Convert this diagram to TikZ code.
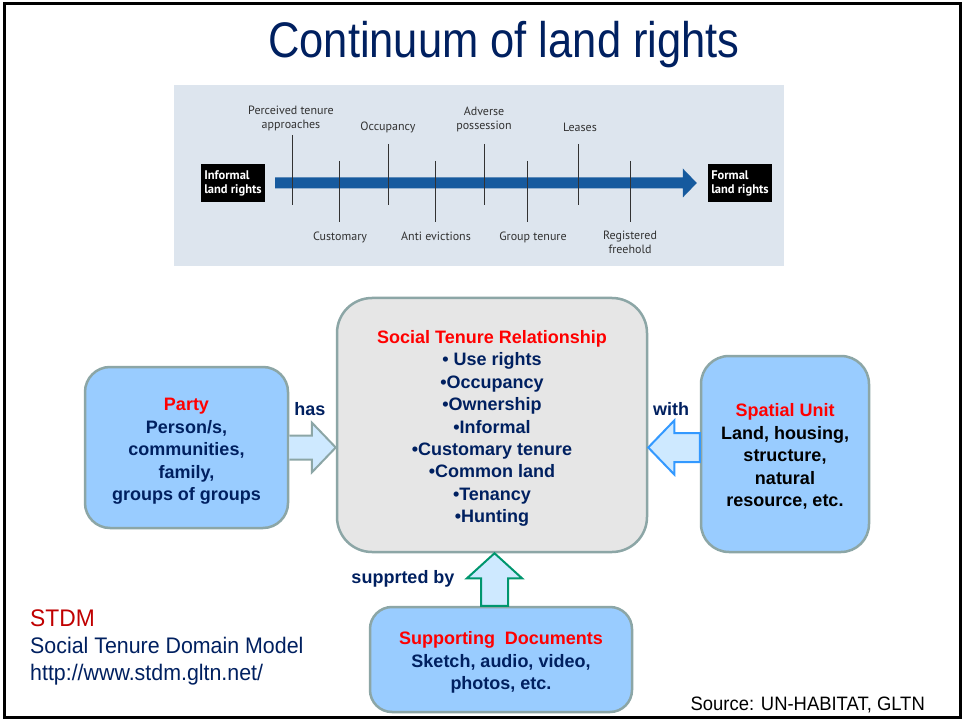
\documentclass[tikz,border=0pt]{standalone}
\usepackage{fontspec}
\setmainfont{Liberation Sans}
\newfontfamily\titlesans{Liberation Sans}[FakeStretch=0.87]
\newfontfamily\notesans{Liberation Sans}[FakeStretch=0.95]
\newfontfamily\stripfont{PT Sans}
\usetikzlibrary{calc}

\definecolor{navy}{RGB}{0,32,96}
\definecolor{stdmred}{RGB}{192,0,0}
\definecolor{boxline}{RGB}{140,166,166}
\definecolor{boxblue}{RGB}{153,204,255}
\definecolor{boxgrey}{RGB}{230,230,230}
\definecolor{arrowfill}{RGB}{206,233,255}
\definecolor{withblue}{RGB}{51,153,255}
\definecolor{supgreen}{RGB}{0,150,110}
\definecolor{stripbg}{RGB}{221,229,238}
\definecolor{stripblue}{RGB}{22,90,158}
\definecolor{stripink}{RGB}{50,50,50}

\begin{document}
\begin{tikzpicture}[x=1pt,y=-1pt,
  box/.style={draw=boxline, line width=2.5pt, rounded corners=#1, inner sep=0pt},
  box/.default=25pt,
  boxtext/.style={align=center, inner sep=0pt, font=\fontsize{18}{22.4}\selectfont\bfseries},
  boxlabel/.style={font=\fontsize{18}{21}\selectfont\bfseries, text=navy},
  block/.style={line width=2pt, fill=arrowfill, line join=miter},
  striplabel/.style={font=\stripfont\fontsize{12}{13.5}\selectfont, text=stripink, align=center, inner sep=0pt},
  tick/.style={draw=stripink, line width=1pt},
  rightsbox/.style={fill=black, text=white, font=\stripfont\bfseries\fontsize{12.5}{14}\selectfont,
    align=left, minimum width=64pt, minimum height=38pt, inner sep=1pt},
  note/.style={font=\notesans\fontsize{22.5}{26}\selectfont, anchor=base west, inner sep=0pt}
]
\useasboundingbox (0,0) rectangle (962,722);
\fill[white] (0,0) rectangle (962,722);

% slide frame
\draw[line width=3pt] (4.5,3.5) rectangle (960.5,717.5);

% title
\node[anchor=base, inner sep=0pt, text=navy, font=\titlesans\fontsize{50}{56}\selectfont]
  (title) at (504,58) {Continuum of land rights};

% ---------- continuum strip ----------
\fill[stripbg] (174,85) rectangle (784,266);
\node[rightsbox] (informal) at (233,183) {Informal\\land rights};
\node[rightsbox] (formal) at (740,183) {Formal\\land rights};
\coordinate (tStart) at ($(informal.east)+(10,0)$);
\coordinate (tTip) at ($(formal.west)+(-11,0)$);
\fill[stripblue] ($(tStart)+(0,-5.5)$) -- ($(tTip)+(-14,-5.5)$) -- ($(tTip)+(-14,-14.5)$) -- (tTip)
  -- ($(tTip)+(-14,14.5)$) -- ($(tTip)+(-14,5.5)$) -- ($(tStart)+(0,5.5)$) -- cycle;

% ticks above the line
\foreach \x/\top in {292/135, 388/144, 484/144, 578/144}
  \draw[tick] (\x,\top) -- (\x,205);
% ticks below the line
\foreach \x in {339, 435, 527, 630}
  \draw[tick] (\x,161) -- (\x,222);

\node[striplabel] (perceived) at (291,118.5) {Perceived tenure\\approaches};
\node[striplabel] (occupancy) at (388,127) {Occupancy};
\node[striplabel] (adverse) at (484,119.5) {Adverse\\possession};
\node[striplabel] (leases) at (580,127) {Leases};
\node[striplabel] (customary) at (340,237) {Customary};
\node[striplabel] (anti) at (436,236) {Anti evictions};
\node[striplabel] (group) at (533,237) {Group tenure};
\node[striplabel] (freehold) at (630,242.5) {Registered\\freehold};

% ---------- STDM boxes ----------
\node[box, fill=boxblue, minimum width=203pt, minimum height=161pt] (party) at (186.5,447.5) {};
\node[boxtext, text=navy] (partytext) at ($(party.center)+(0,4)$)
  {\textcolor{red}{Party}\\Person/s,\\communities,\\family,\\groups of groups};
\node[box=35pt, fill=boxgrey, minimum width=310pt, minimum height=254pt] (str) at (492,425) {};
\node[boxtext, text=navy] (strtext) at ($(str.center)+(0,3.5)$)
  {\textcolor{red}{Social Tenure Relationship}\\• Use rights\\•Occupancy\\•Ownership\\•Informal\\•Customary tenure\\•Common land\\•Tenancy\\•Hunting};
\node[box=28pt, fill=boxblue, minimum width=168pt, minimum height=196pt] (spatial) at (785,454) {};
\node[boxtext, text=black] (spatialtext) at ($(spatial.center)+(0,2.5)$)
  {\textcolor{red}{Spatial Unit}\\Land, housing,\\structure,\\natural\\resource, etc.};
\node[box=22pt, fill=boxblue, minimum width=262pt, minimum height=105pt] (docs) at (501,659.5) {};
\node[boxtext, text=navy] (docstext) at ($(docs.center)+(0,3)$)
  {\textcolor{red}{Supporting\ \ Documents}\\Sketch, audio, video,\\photos, etc.};

% block arrow: party has relationship
\coordinate (hasTip) at (str.west |- party.east);
\draw[block, draw=boxline] ($(party.east)+(0,-12)$) -- ($(hasTip)+(-24,-12)$) -- ($(hasTip)+(-24,-25)$)
  -- (hasTip) -- ($(hasTip)+(-24,25)$) -- ($(hasTip)+(-24,12)$) -- ($(party.east)+(0,12)$);

% block arrow: relationship with spatial unit
\coordinate (withTip) at (str.east |- party.east);
\coordinate (withBase) at (spatial.west |- party.east);
\draw[block, draw=withblue] (withTip) -- ($(withTip)+(26,-27)$) -- ($(withTip)+(26,-14.5)$)
  -- ($(withBase)+(0,-14.5)$) -- ($(withBase)+(0,14.5)$) -- ($(withTip)+(26,14.5)$)
  -- ($(withTip)+(26,27)$) -- cycle;

% block arrow: supported by documents
\coordinate (supTip) at ($(str.south)+(2.5,0)$);
\coordinate (supBase) at (supTip |- docs.north);
\draw[block, draw=supgreen] (supTip) -- ($(supTip)+(27.5,25)$) -- ($(supTip)+(13.5,25)$)
  -- ($(supBase)+(13.5,0)$) -- ($(supBase)+(-13.5,0)$) -- ($(supTip)+(-13.5,25)$)
  -- ($(supTip)+(-27.5,25)$) -- cycle;

\node[boxlabel] (has) at (310,409) {has};
\node[boxlabel] (with) at (671,409) {with};
\node[boxlabel] (supp) at (403,579) {supprted by};

% ---------- notes ----------
\node[note, text=stdmred, font=\notesans\fontsize{24}{28}\selectfont] (stdm) at (30,626) {STDM};
\node[note, text=navy] (model) at (30,653) {Social Tenure Domain Model};
\node[note, text=navy] (url) at (30,680) {http://www.stdm.gltn.net/};
\node[anchor=base east, inner sep=0pt, font=\notesans\fontsize{19.4}{23}\selectfont] (source) at (925,710)
  {Source: UN-HABITAT, GLTN};
\end{tikzpicture}
\end{document}
